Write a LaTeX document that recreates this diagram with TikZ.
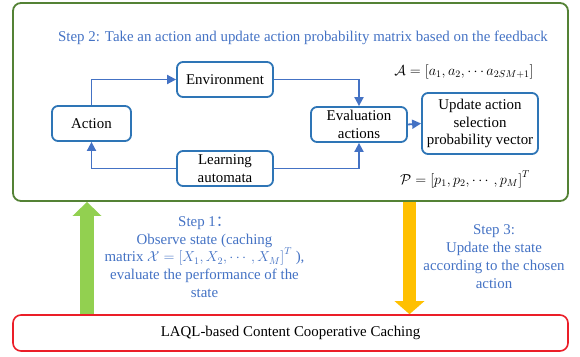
\documentclass[tikz,border=0pt]{standalone}
\usepackage{fontspec}
\setmainfont{Liberation Serif}
\newfontfamily\cjk{Noto Sans CJK SC}
\usepackage{amsmath, amssymb}
\usetikzlibrary{arrows.meta, positioning, calc}
\definecolor{framegreen}{RGB}{84,130,53}
\definecolor{boxblue}{RGB}{46,117,182}
\definecolor{textblue}{RGB}{68,114,196}
\definecolor{laqlred}{RGB}{235,30,40}
\definecolor{upgreen}{RGB}{146,208,80}
\definecolor{downorange}{RGB}{255,192,0}

\begin{document}
\begin{tikzpicture}[x=1pt,y=-1pt,>={Triangle[length=9pt,width=9pt]},
    font=\fontsize{14.9}{17.8}\selectfont,
    stagebox/.style={draw=boxblue,line width=1.8pt,rounded corners=6pt,
      minimum width=96pt,minimum height=35pt,inner sep=1pt,align=center},
    loop/.style={->,draw=textblue,line width=1.8pt}]
  \useasboundingbox (0,0) rectangle (580,356);
  % outer frames
  \node[draw=framegreen,line width=1.8pt,rounded corners=8pt,
        minimum width=555pt,minimum height=198pt] (frame) at (290.5,102) {};
  \node[draw=laqlred,line width=1.6pt,rounded corners=8pt,
        minimum width=555pt,minimum height=36pt] (laql) at (290.5,333)
    {LAQL-based Content Cooperative Caching};
  \node[text=textblue] (step2) at (303,38)
    {Step 2: Take an action and update action probability matrix based on the feedback};
  % learning loop
  \node[stagebox,minimum width=79pt] (action) at (91.5,123.5) {Action};
  \node[stagebox] (env) at (225,79.5) {Environment};
  \node[stagebox] (la) at (225,168.5) {Learning\\automata};
  \node[stagebox] (eval) at (359,124.5) {Evaluation\\actions};
  \node[stagebox,minimum width=116pt,minimum height=61pt] (upd) at (480,123.5)
    {Update action\\selection\\probability vector};
  \node (aset) at (464,72) {$\mathcal{A}=\left[a_1,a_2,\cdots a_{2SM+1}\right]$};
  \node (pvec) at (465,179) {$\mathcal{P}=\left[p_1,p_2,\cdots,p_M\right]^T$};
  \draw[loop] (action.north) |- (env.west);
  \draw[loop] (env.east) -| (eval.north);
  \draw[loop] (la.west) -| (action.south);
  \draw[loop] (la.east) -| (eval.south);
  \draw[loop] (eval.east) -- (upd.west);
  % steps between the frames
  \coordinate (upx) at (87,0);
  \coordinate (downx) at (409.5,0);
  \draw[draw=upgreen,line width=14pt,
        -{Triangle[length=14pt,width=28pt,fill=upgreen,color=upgreen]}]
    (laql.north -| upx) -- (frame.south -| upx);
  \draw[draw=downorange,line width=13pt,
        -{Triangle[length=13pt,width=29pt,fill=downorange,color=downorange]}]
    (frame.south -| downx) -- (laql.north -| downx);
  \node[text=textblue,align=center] (step1) at (204.5,257)
    {Step 1{\cjk ：}\\Observe state (caching\\
     matrix $\mathcal{X}=\left[X_1,X_2,\cdots,X_M\right]^T$ ),\\
     evaluate the performance of the\\state};
  \node[text=textblue,align=center] (step3) at (494,256.5)
    {Step 3:\\Update the state\\according to the chosen\\action};
\end{tikzpicture}
\end{document}
